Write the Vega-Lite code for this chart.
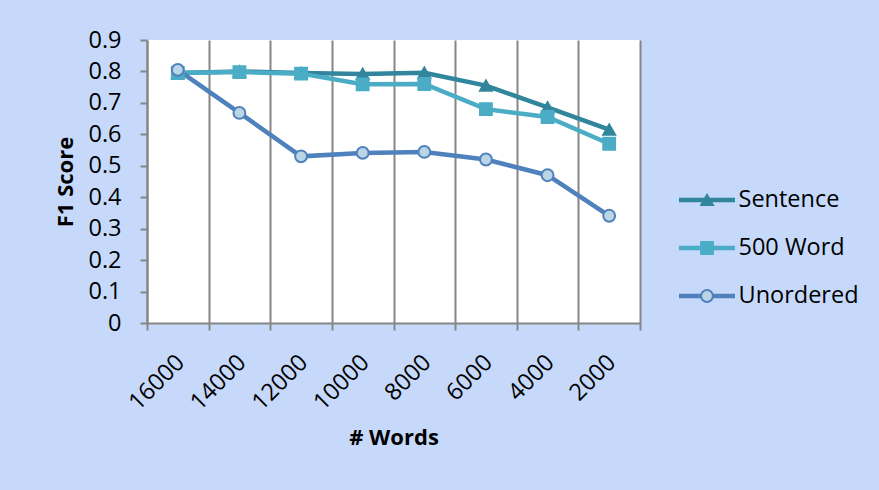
{
  "$schema": "https://vega.github.io/schema/vega-lite/v6.json",
  "width": 493,
  "height": 283,
  "autosize": {"type": "none"},
  "padding": {"left": 147, "top": 40, "right": 239, "bottom": 167},
  "background": "#C6D9FB",
  "config": {
    "view": {"fill": "white", "stroke": null},
    "font": "Open Sans"
  },
  "data": {
    "values": [
      {"words": "16000", "series": "Sentence", "f1": 0.795},
      {"words": "14000", "series": "Sentence", "f1": 0.800},
      {"words": "12000", "series": "Sentence", "f1": 0.795},
      {"words": "10000", "series": "Sentence", "f1": 0.792},
      {"words": "8000", "series": "Sentence", "f1": 0.796},
      {"words": "6000", "series": "Sentence", "f1": 0.755},
      {"words": "4000", "series": "Sentence", "f1": 0.686},
      {"words": "2000", "series": "Sentence", "f1": 0.615},
      {"words": "16000", "series": "500 Word", "f1": 0.795},
      {"words": "14000", "series": "500 Word", "f1": 0.798},
      {"words": "12000", "series": "500 Word", "f1": 0.793},
      {"words": "10000", "series": "500 Word", "f1": 0.759},
      {"words": "8000", "series": "500 Word", "f1": 0.760},
      {"words": "6000", "series": "500 Word", "f1": 0.680},
      {"words": "4000", "series": "500 Word", "f1": 0.655},
      {"words": "2000", "series": "500 Word", "f1": 0.570},
      {"words": "16000", "series": "Unordered", "f1": 0.805},
      {"words": "14000", "series": "Unordered", "f1": 0.668},
      {"words": "12000", "series": "Unordered", "f1": 0.530},
      {"words": "10000", "series": "Unordered", "f1": 0.541},
      {"words": "8000", "series": "Unordered", "f1": 0.544},
      {"words": "6000", "series": "Unordered", "f1": 0.520},
      {"words": "4000", "series": "Unordered", "f1": 0.470},
      {"words": "2000", "series": "Unordered", "f1": 0.341}
    ]
  },
  "encoding": {
    "x": {
      "field": "words",
      "type": "ordinal",
      "sort": null,
      "scale": {"type": "band", "paddingInner": 0, "paddingOuter": 0},
      "axis": {
        "title": "# Words",
        "tickBand": "extent",
        "grid": true,
        "gridColor": "#868686",
        "gridWidth": 2,
        "domainColor": "#868686",
        "domainWidth": 2,
        "tickColor": "#868686",
        "tickWidth": 2,
        "tickSize": 7,
        "labelAngle": -45,
        "labelFontSize": 23.5,
        "labelColor": "black",
        "labelPadding": 20,
        "labelOffset": -6,
        "titleFontSize": 22,
        "titleFontWeight": "bold",
        "titleColor": "black",
        "titlePadding": 13
      }
    },
    "y": {
      "field": "f1",
      "type": "quantitative",
      "scale": {"domain": [0, 0.9], "nice": false, "zero": true},
      "axis": {
        "title": "F1 Score",
        "values": [0, 0.1, 0.2, 0.3, 0.4, 0.5, 0.6, 0.7, 0.8, 0.9],
        "format": "~g",
        "grid": false,
        "domainColor": "#868686",
        "domainWidth": 2,
        "tickColor": "#868686",
        "tickWidth": 2,
        "tickSize": 7,
        "labelFontSize": 23.5,
        "labelColor": "black",
        "labelPadding": 19,
        "titleFontSize": 22,
        "titleFontWeight": "bold",
        "titleColor": "black",
        "titlePadding": 10
      }
    }
  },
  "layer": [
    {
      "mark": {"type": "line", "strokeWidth": 4.5},
      "encoding": {
        "color": {
          "field": "series",
          "type": "nominal",
          "sort": ["Sentence", "500 Word", "Unordered"],
          "scale": {"range": ["#31859C", "#4BACC6", "#4F81BD"]},
          "legend": {
            "orient": "none",
            "legendX": 529.5,
            "legendY": 150,
            "title": null,
            "padding": 0,
            "symbolType": "stroke",
            "symbolSize": 3136,
            "symbolStrokeWidth": 4.5,
            "clipHeight": 20,
            "rowPadding": 24,
            "labelFontSize": 23.5,
            "labelColor": "black",
            "labelOffset": 1
          }
        }
      }
    },
    {
      "mark": {"type": "point", "filled": true, "size": 140, "opacity": 1, "strokeWidth": 2},
      "encoding": {
        "shape": {
          "field": "series",
          "type": "nominal",
          "scale": {"domain": ["Sentence", "500 Word", "Unordered"], "range": ["triangle-up", "square", "circle"]},
          "legend": {
            "orient": "none",
            "legendX": 553,
            "legendY": 150,
            "title": null,
            "padding": 0,
            "symbolSize": 140,
            "symbolStrokeWidth": 2,
            "clipHeight": 20,
            "rowPadding": 28,
            "labelFontSize": 1,
            "labelOpacity": 0
          }
        },
        "fill": {
          "field": "series",
          "type": "nominal",
          "scale": {"domain": ["Sentence", "500 Word", "Unordered"], "range": ["#31859C", "#4BACC6", "#BAD6E4"]}
        },
        "stroke": {
          "field": "series",
          "type": "nominal",
          "scale": {"domain": ["Sentence", "500 Word", "Unordered"], "range": ["#31859C", "#4BACC6", "#4F81BD"]}
        }
      }
    }
  ]
}
